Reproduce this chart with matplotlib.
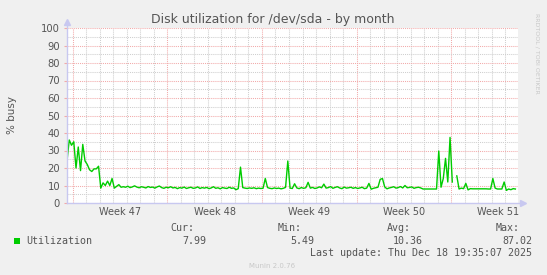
import numpy as np
import matplotlib
matplotlib.use("Agg")
import matplotlib.pyplot as plt
from matplotlib.ticker import MultipleLocator
from matplotlib.patches import Rectangle
import matplotlib.transforms as mtransforms

# data: % busy, 4h samples, days counted from Sun 2025-11-16 00:00
title = "Disk utilization for /dev/sda - by month"
week_labels = ["Week 47", "Week 48", "Week 49", "Week 50", "Week 51"]
week_mid = [3.5, 10.5, 17.5, 24.5, 31.5]
t_start = -0.42
t_step = 1.0 / 6
util = [
    24, 36, 33, 35, 20, 32, 18.5, 33.5, 24, 22,
    19, 18, 19.5, 19.5, 21, 8.5, 11.5, 10, 12.5, 10,
    14, 8.5, 9.5, 10.5, 9, 9.3, 9.0, 9.6, 8.8, 9.2,
    9.8, 9.1, 8.7, 9.3, 9.0, 8.6, 9.4, 8.9, 9.1, 8.5,
    9.2, 9.7, 8.8, 8.4, 9.0, 8.7, 9.3, 8.6, 8.9, 8.2,
    8.8, 8.5, 9.1, 8.3, 8.7, 9.0, 8.4, 8.6, 9.2, 8.3,
    8.8, 8.5, 8.9, 8.2, 8.6, 9.3, 8.4, 8.7, 8.1, 8.8,
    8.5, 8.3, 9.0, 8.4, 8.6, 7.6, 8.2, 20.5, 8.8, 8.5,
    8.3, 8.6, 8.4, 8.7, 8.2, 8.5, 8.3, 8.4, 14, 8.8,
    8.4, 8.2, 8.6, 8.3, 8.5, 8.1, 8.4, 8.9, 24, 8.5,
    8.3, 11, 8.6, 8.2, 8.8, 8.4, 8.7, 11.8, 8.5, 8.9,
    8.3, 8.6, 9.2, 8.7, 10.8, 8.5, 8.8, 9.4, 8.4, 8.9,
    9.3, 8.6, 8.2, 9.1, 8.5, 8.7, 9.0, 8.4, 8.8, 8.3,
    8.6, 9.0, 8.2, 8.5, 11.2, 7.9, 8.4, 8.7, 9.0, 13.5,
    14, 9.2, 8.1, 8.6, 8.9, 9.3, 8.5, 8.8, 9.4, 8.6,
    10, 8.7, 8.9, 9.2, 8.4, 8.8, 9.0, 8.6, 8.0, 8.0,
    8.0, 8.0, 8.0, 8.0, 8.0, 29.7, 9.0, 14, 25.5, 12,
    37.5, 12, np.nan, 15.5, 8.0, 8.5, 8.2, 11.2, 7.5, 8.2,
    8.1, 8.1, 8.1, 8.1, 8.1, 8.1, 8.1, 8.0, 8.0, 14,
    8.5, 8.0, 8.0, 8.0, 12, 7.2, 8.0, 7.6, 8.2, 7.99,
]
stat_names = ["Cur:", "Min:", "Avg:", "Max:"]
stat_values = ["7.99", "5.49", "10.36", "87.02"]
last_update = "Last update: Thu Dec 18 19:35:07 2025"

t = t_start + t_step * np.arange(len(util))

W, H = 547, 275
txt = "#555555"
fig = plt.figure(figsize=(W / 100, H / 100), dpi=100, facecolor="#f0f0f0")
ax = fig.add_axes([67 / W, 1 - 203 / H, 451 / W, 175 / H])
ax.set_facecolor("white")

ax.plot(t, util, color="#00cc00", lw=1.0, zorder=3)

ax.set_xlim(t_start, 32.94)
ax.set_ylim(0, 100)

# grid
ax.xaxis.set_major_locator(MultipleLocator(7))
ax.xaxis.set_minor_locator(MultipleLocator(1))
ax.yaxis.set_major_locator(MultipleLocator(10))
ax.yaxis.set_minor_locator(MultipleLocator(5))
ax.set_axisbelow(True)
ax.grid(which="major", color="#f2aaaa", linestyle=(0, (1, 1)), linewidth=0.75)
ax.grid(which="minor", color="#cfcfcf", linestyle=(0, (1, 1)), linewidth=0.75)
ax.set_xticklabels([])
ax.tick_params(axis="x", which="both", length=0)
ax.tick_params(axis="y", which="major", length=2, color="#f2aaaa", pad=3,
               labelsize=7.2, labelcolor=txt)
ax.tick_params(axis="y", which="minor", length=0)

trans = mtransforms.blended_transform_factory(ax.transData, ax.transAxes)
for xm, lab in zip(week_mid, week_labels):
    ax.text(xm, -9 / 175, lab, transform=trans, ha="center", va="center",
            fontsize=7.0, color=txt)

# axes lines with arrows
for s in ax.spines.values():
    s.set_visible(False)
axc = "#c8c8f0"
ax.plot([0, 0], [0, 1.03], transform=ax.transAxes, color=axc, lw=1, clip_on=False, zorder=4)
ax.plot([0], [1.035], transform=ax.transAxes, marker="^", ms=4, color=axc, clip_on=False, zorder=4)
ax.plot([0, 1.005], [0, 0], transform=ax.transAxes, color=axc, lw=1, clip_on=False, zorder=4)
ax.plot([1.01], [0], transform=ax.transAxes, marker=">", ms=4, color=axc, clip_on=False, zorder=4)

ax.set_ylabel("% busy", fontsize=7.5, color=txt, labelpad=17.5)

def fx(x):
    return x / W

def fy(y):
    return 1 - y / H

fig.text(fx(273), fy(19), title, ha="center", va="center", fontsize=9, color=txt)
fig.text(fx(537), fy(53), "RRDTOOL / TOBI OETIKER", rotation=270, ha="center",
         va="center", fontsize=4.5, color="#c8c8c8")

mono = "DejaVu Sans Mono"
fig.patches.append(Rectangle((fx(14), fy(244)), 6 / W, 6 / H, transform=fig.transFigure,
                             facecolor="#00cc00", edgecolor="none"))
fig.text(fx(26), fy(240.7), "Utilization", ha="left", va="center", family=mono,
         fontsize=7.2, color=txt)
name_x = [194, 302, 411, 520]
val_x = [206, 314.6, 423, 532]
for nx, vx, n, v in zip(name_x, val_x, stat_names, stat_values):
    fig.text(fx(nx), fy(228), n, ha="right", va="center", family=mono, fontsize=7.2, color=txt)
    fig.text(fx(vx), fy(240.7), v, ha="right", va="center", family=mono, fontsize=7.2, color=txt)
fig.text(fx(532), fy(253), last_update, ha="right", va="center", family=mono,
         fontsize=7.2, color=txt)
fig.text(fx(272.5), fy(266.5), "Munin 2.0.76", ha="center", va="center",
         fontsize=5, color="#c8c8c8")

fig.savefig("out.png", dpi=100, facecolor=fig.get_facecolor())
